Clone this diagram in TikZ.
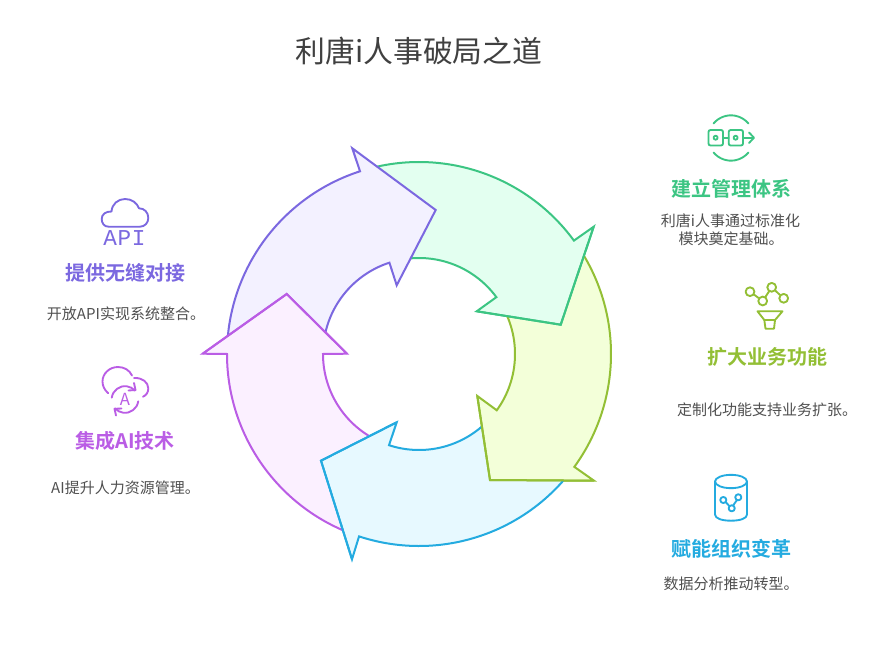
\documentclass[tikz,border=0pt]{standalone}
\usepackage{fontspec}
\setmainfont{Noto Sans CJK SC}[BoldFont=* Bold]
\newfontfamily\apifont[LetterSpace=3]{Liberation Mono}
\usetikzlibrary{arrows.meta}
\definecolor{cpur}{HTML}{7B68E0}\definecolor{fpur}{HTML}{F3F1FF}
\definecolor{cgre}{HTML}{3CC583}\definecolor{fgre}{HTML}{E3FFF0}
\definecolor{cyel}{HTML}{93BF35}\definecolor{fyel}{HTML}{F3FFD9}
\definecolor{cblu}{HTML}{24ABE0}\definecolor{fblu}{HTML}{E7F9FF}
\definecolor{cpin}{HTML}{BA5DE5}\definecolor{fpin}{HTML}{FBF0FF}
\definecolor{ctxt}{HTML}{505050}
\newcommand{\arcO}[2]{([shift={(#1:144pt)}]c) arc[start angle=#1,end angle=#2,radius=144pt]}
\newcommand{\arcI}[2]{([shift={(#1:72pt)}]c) arc[start angle=#1,end angle=#2,radius=72pt]}
\newcommand{\pathG}{\arcO{102.7}{36.2} -- (593.7,226.7) -- (560.7,324.7) -- (476.7,311.3) -- \arcI{36.3}{94.9}}
\newcommand{\pathY}{\arcO{30.9}{-36} -- (594,480.7) -- (490,480) -- (477.3,396) -- \arcI{-35.9}{22.9}}
\newcommand{\pathB}{\arcO{-41.3}{-108.2} -- (352,559.3) -- (321,460.7) -- (396.7,422.3) -- \arcI{-108.2}{-49.2}}
\newcommand{\pathP}{\arcO{-113.2}{-180} -- (202.7,353.7) -- (286.7,294) -- (347,353.7) -- \arcI{-180}{-121.8}}
\newcommand{\pathU}{\arcO{174.3}{107.9} -- (352.3,148.3) -- (435.7,210) -- (396.7,285.3) -- \arcI{107.95}{167}}
\tikzset{
  band/.style={line width=1.5pt,line join=miter,miter limit=10},
  icon/.style={line width=1.4pt,line cap=round,line join=round},
  headtxt/.style={font=\fontsize{15}{18}\selectfont\bfseries,inner sep=0pt},
  desctxt/.style={font=\fontsize{11.25}{14}\selectfont,text=ctxt,inner sep=0pt},
  titletxt/.style={font=\fontsize{22.4}{27}\selectfont,text=black!75,inner sep=0pt}
}
\begin{document}
\begin{tikzpicture}[x=0.75pt,y=-0.75pt]
\useasboundingbox (0,0) rectangle (887,648);
\fill[white] (0,0) rectangle (887,648);
\coordinate (c) at (419,354);

% ring arrows: fills run under the neighbour's head corner, strokes stay open at the tail
\fill[fgre] \pathG -- (435.7,210) -- cycle;
\fill[fyel] \pathY -- (560.7,324.7) -- cycle;
\fill[fblu] \pathB -- (490,480) -- cycle;
\fill[fpin] \pathP -- (321,460.7) -- cycle;
\fill[fpur] \pathU -- (286.7,294) -- cycle;
% heads repainted over the tail they cover
\fill[fgre] (593.7,226.7) -- (560.7,324.7) -- (476.7,311.3) -- (496.7,297) -- (574,240.7) -- cycle;
\fill[fyel] (594,480.7) -- (490,480) -- (477.3,396) -- (496.7,410.3) -- (574.3,466.7) -- cycle;
\fill[fblu] (352,559.3) -- (321,460.7) -- (396.7,422.3) -- (389,445.3) -- (359.3,536) -- cycle;
\fill[fpin] (202.7,353.7) -- (286.7,294) -- (347,353.7) -- (323,353.7) -- (226.7,353.7) -- cycle;
\fill[fpur] (352.3,148.3) -- (435.7,210) -- (396.7,285.3) -- (389.3,262.3) -- (360,171.7) -- cycle;
\draw[band,draw=cgre] \pathG;
\draw[band,draw=cyel] \pathY;
\draw[band,draw=cblu] \pathB;
\draw[band,draw=cpin] \pathP;
\draw[band,draw=cpur] \pathU;
% head edges that lie over a neighbour's tail
\draw[band,draw=cgre] (593.7,226.7) -- (560.7,324.7) -- (476.7,311.3);
\draw[band,draw=cyel] (594,480.7) -- (490,480) -- (477.3,396);
\draw[band,draw=cblu] (352,559.3) -- (321,460.7) -- (396.7,422.3);
\draw[band,draw=cpin] (202.7,353.7) -- (286.7,294) -- (347,353.7);

% title
\node[titletxt] (title) at (419,51) {利唐i人事破局之道};

% green block
\begin{scope}[icon,draw=cgre]
  \draw[rounded corners=1.5pt] (708.5,130) rectangle (723,145.5);
  \draw[rounded corners=1.5pt] (728.7,130) rectangle (743,145.5);
  \draw (723,137.7) -- (728.7,137.7);
  \draw (715.6,137.7) circle[radius=1.5pt];
  \draw (735.6,137.7) circle[radius=1.5pt];
  \draw (743,137.7) -- (753.5,137.7);
  \draw (749,132.5) -- (754,137.7) -- (749,143);
  \draw ([shift={(140:17pt)}]731,138) arc[start angle=140,end angle=40,radius=17pt];
  \draw ([shift={(-140:17pt)}]731,138) arc[start angle=-140,end angle=-40,radius=17pt];
\end{scope}
\node[headtxt,text=cgre] (h1) at (731,189) {建立管理体系};
\node[desctxt] (d1a) at (730.5,220.5) {利唐i人事通过标准化};
\node[desctxt] (d1b) at (731,239) {模块奠定基础。};

% yellow block
\begin{scope}[icon,draw=cyel]
  \draw (750,291.7) circle[radius=3.3pt];
  \draw (762.7,301) circle[radius=3.3pt];
  \draw (771.7,287.3) circle[radius=3.3pt];
  \draw (783.7,298.3) circle[radius=3.3pt];
  \draw (754,294.6) -- (758.6,298);
  \draw (765.3,297) -- (769.1,291.3);
  \draw (775.4,290.7) -- (780,295);
  \draw (757.5,311.3) -- (782.5,311.3) -- (775,320) -- (774,328.7) -- (765.5,328.7) -- (764.3,320) -- cycle;
  \draw (764.3,320) -- (775,320);
\end{scope}
\node[headtxt,text=cyel] (h2) at (767,357) {扩大业务功能};
\node[desctxt] (d2) at (767,409.5) {定制化功能支持业务扩张。};

% blue block
\begin{scope}[icon,draw=cblu]
  \draw (731,481.5) ellipse[x radius=12pt,y radius=5pt];
  \draw (715,481.5) -- (715,514.5) .. controls (715,518.5) and (722,520.7) .. (731,520.7) .. controls (740,520.7) and (747,518.5) .. (747,514.5) -- (747,481.5);
  \draw (723.3,500) circle[radius=2.3pt];
  \draw (738.3,497.3) circle[radius=2.3pt];
  \draw (731.7,508.3) circle[radius=2.3pt];
  \draw (725.8,502.2) -- (729.2,505.9);
  \draw (733.3,505.2) -- (736.7,500.4);
\end{scope}
\node[headtxt,text=cblu] (h3) at (731,549) {赋能组织变革};
\node[desctxt] (d3) at (731,583.5) {数据分析推动转型。};

% purple block
\begin{scope}[icon,draw=cpur]
  \draw (108.5,226.7) .. controls (104,226.7) and (101.7,223) .. (101.7,219) .. controls (101.7,214.5) and (105.5,211.3) .. (111.5,211.5) .. controls (112,204) and (118,199) .. (125,199) .. controls (132,199) and (137,203) .. (139,208.3) .. controls (144.5,208.3) and (148.3,212.5) .. (148.3,218) .. controls (148.3,223) and (144.5,226.7) .. (140,226.7) -- cycle;
\end{scope}
\node[inner sep=0pt,text=cpur,font=\apifont\fontsize{17}{20}\selectfont] (apiicon) at (124.5,238) {API};
\node[headtxt,text=cpur] (h4) at (125,273) {提供无缝对接};
\node[desctxt] (d4) at (126,313.5) {开放API实现系统整合。};

% pink block
\begin{scope}[icon,draw=cpin]
  \draw (108.3,393.3) .. controls (104.5,390) and (102.5,386) .. (102.5,381.5) .. controls (102.5,373.5) and (109.5,367) .. (118,367) .. controls (124,367) and (129.5,370) .. (132,375.5);
  \draw (134,378) .. controls (142,377.5) and (148.3,382) .. (148.3,388.5) .. controls (148.3,392.5) and (146,395.5) .. (143,396.7);
  \draw ([shift={(172:10pt)}]125,399.5) arc[start angle=172,end angle=42,radius=10pt];
  \draw (134,383) -- (135.5,390) -- (128.5,390.5);
  \draw ([shift={(-8:10pt)}]125,399.5) arc[start angle=-8,end angle=-138,radius=10pt];
  \draw (116,415.5) -- (114.5,408.8) -- (121.5,408.5);
\end{scope}
\node[inner sep=0pt,text=cpin,font=\fontsize{12.5}{14}\selectfont] (aiicon) at (125,399) {A};
\node[headtxt,text=cpin] (h5) at (125,441) {集成AI技术};
\node[desctxt] (d5) at (125.5,487.5) {AI提升人力资源管理。};
\end{tikzpicture}
\end{document}
